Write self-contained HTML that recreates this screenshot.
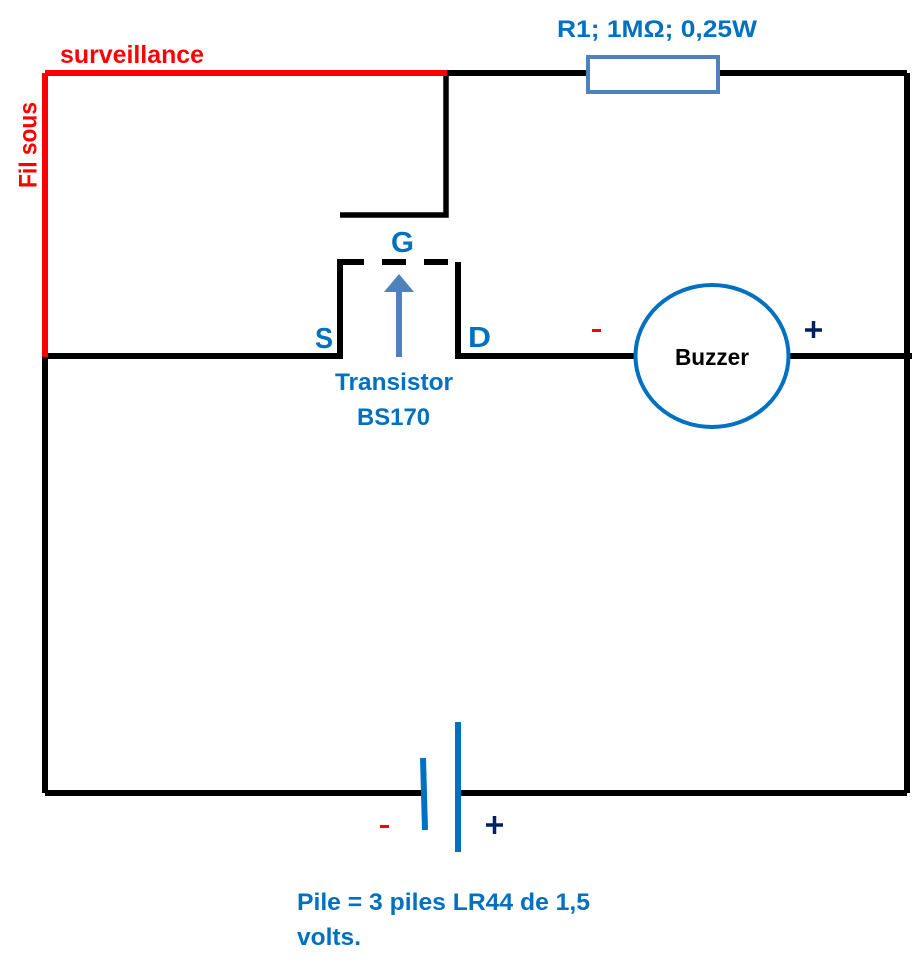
<!DOCTYPE html>
<html><head><meta charset="utf-8"><style>
html,body{margin:0;padding:0;background:#fff}
svg{display:block}
text{font-family:"Liberation Sans",sans-serif;font-weight:bold;fill:#0070c0}
</style></head><body>
<svg width="914" height="963" viewBox="0 0 914 963" xmlns="http://www.w3.org/2000/svg">
<g fill="none" stroke="#000" stroke-width="6">
<path d="M447 73H907M907 73V793M907 793H458M422 793H45M45 793V356"/>
<path d="M446 73V215H340" stroke-width="5.5"/>
<path d="M45 356H340V262H364M382 262H406M424 262H448"/>
<path d="M458 262V356H634M790 356H912"/>
</g>
<g stroke="#f00" stroke-width="6" fill="none"><path d="M45 73H447M45 73V357"/></g>
<rect x="588" y="57" width="130" height="35" fill="#fff" stroke="#4f81bd" stroke-width="4"/>
<ellipse cx="712" cy="356" rx="76.500" ry="71" fill="#fff" stroke="#0070c0" stroke-width="4"/>
<path d="M399 357V290" stroke="#4f81bd" stroke-width="6"/>
<path d="M399 274L414 292H384Z" fill="#4f81bd"/>
<path d="M423 758L425 830" stroke="#0070c0" stroke-width="6"/>
<path d="M458 722V852" stroke="#0070c0" stroke-width="6"/>
<rect x="592" y="329" width="9" height="3" fill="#f00"/>
<rect x="380" y="825" width="9" height="3" fill="#f00"/>
<path d="M805 330H822M813.500 321V338M486 825H503M494.500 816V834" stroke="#002060" stroke-width="3.500" fill="none"/>
<text x="60" y="63" font-size="25" textLength="144" lengthAdjust="spacingAndGlyphs" style="fill:#f00">surveillance</text>
<text transform="translate(36.500 188) rotate(-90)" font-size="25" textLength="86" lengthAdjust="spacingAndGlyphs" style="fill:#f00">Fil sous</text>
<text x="557" y="37" font-size="24" textLength="200" lengthAdjust="spacingAndGlyphs">R1; 1MΩ; 0,25W</text>
<text x="391" y="252" font-size="29" textLength="23" lengthAdjust="spacingAndGlyphs">G</text>
<text x="315" y="348" font-size="29" textLength="18" lengthAdjust="spacingAndGlyphs">S</text>
<text x="468" y="347" font-size="29" textLength="23" lengthAdjust="spacingAndGlyphs">D</text>
<text x="335" y="390" font-size="24" textLength="118" lengthAdjust="spacingAndGlyphs">Transistor</text>
<text x="357" y="425" font-size="24" textLength="73" lengthAdjust="spacingAndGlyphs">BS170</text>
<text x="675" y="365" font-size="23" textLength="74" lengthAdjust="spacingAndGlyphs" style="fill:#000">Buzzer</text>
<text x="297" y="910" font-size="24" textLength="293" lengthAdjust="spacingAndGlyphs">Pile = 3 piles LR44 de 1,5</text>
<text x="297" y="945" font-size="24" textLength="64" lengthAdjust="spacingAndGlyphs">volts.</text>
</svg>
</body></html>
